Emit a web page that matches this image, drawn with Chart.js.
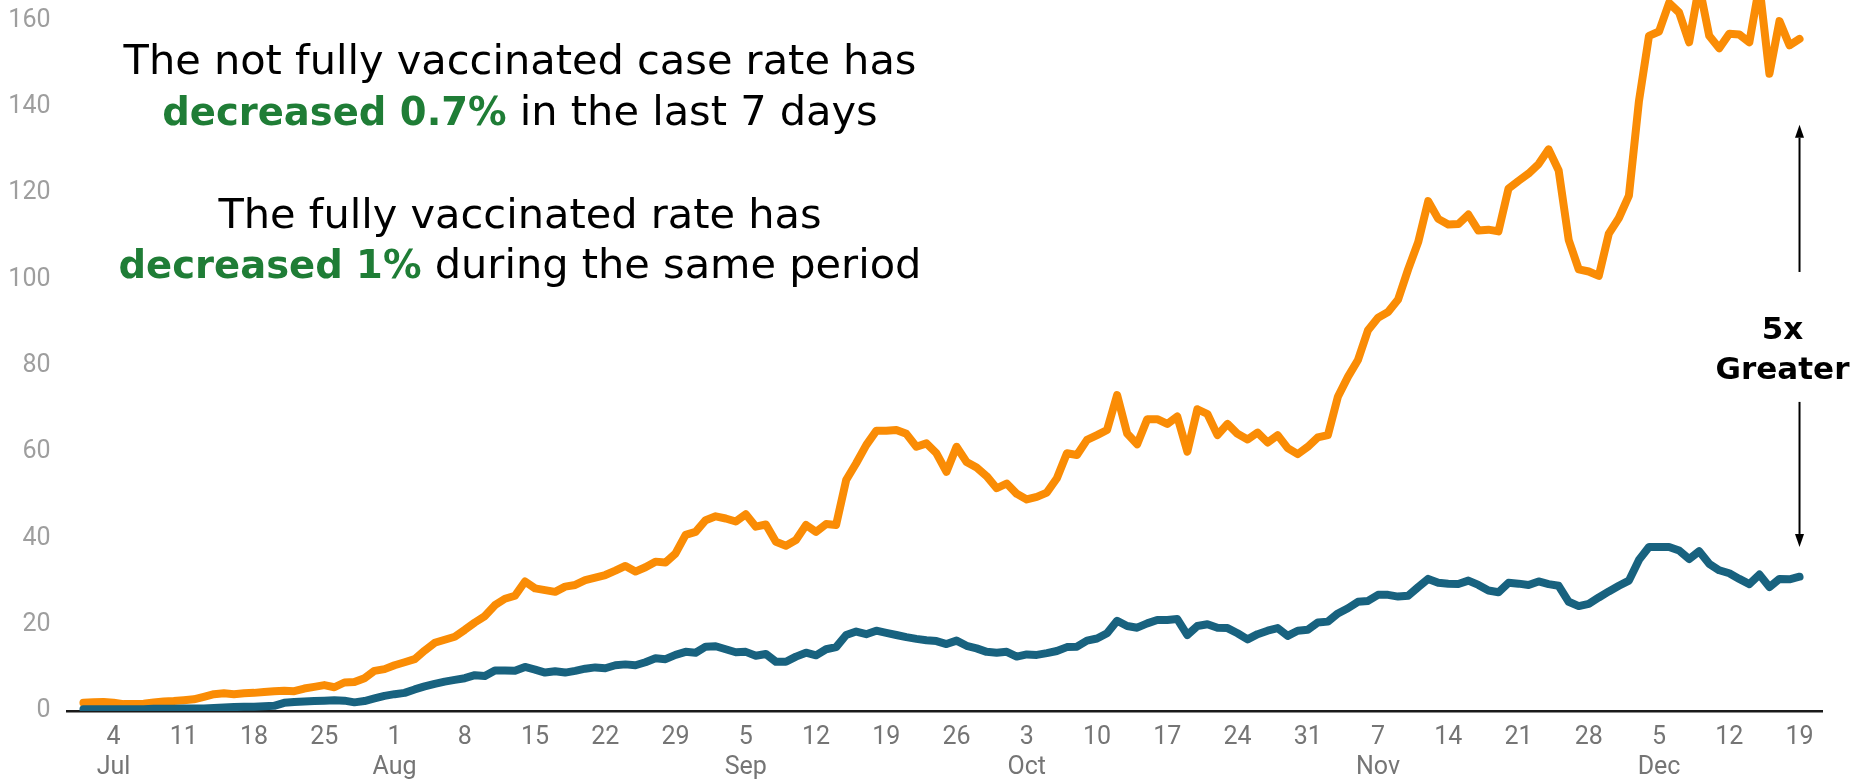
<!DOCTYPE html>
<html>
<head>
<meta charset="utf-8">
<script src="https://cdn.jsdelivr.net/npm/chart.js@4.4.1/dist/chart.umd.min.js"></script>
<style>
  html, body { margin: 0; padding: 0; background: #ffffff; }
  #wrap { width: 1855px; height: 779px; position: relative; }
</style>
</head>
<body>
<div id="wrap"><canvas id="c" width="1855" height="779"></canvas></div>
<script>
// ---------------- DATA ----------------
// Daily case rate, 1 Jul -> 19 Dec (172 days)
const startDate = '2021-07-01';

const notFully = [
  1.9, 2.0, 2.1, 1.9, 1.6, 1.6, 1.7, 2.0, 2.2, 2.3,
  2.5, 2.7, 3.3, 3.9, 4.1, 3.9, 4.1, 4.2, 4.4, 4.6,
  4.7, 4.6, 5.2, 5.6, 6.0, 5.5, 6.6, 6.7, 7.6, 9.3,
  9.7, 10.6, 11.3, 12.0, 14.0, 15.8, 16.5, 17.2, 18.8, 20.5,
  22.0, 24.5, 26.0, 26.7, 30.0, 28.4, 28.0, 27.6, 28.8, 29.2,
  30.3, 30.9, 31.5, 32.5, 33.6, 32.3, 33.3, 34.6, 34.4, 36.5,
  40.8, 41.5, 44.2, 45.1, 44.6, 43.9, 45.6, 42.7, 43.2, 39.2,
  38.3, 39.6, 43.1, 41.5, 43.3, 43.1, 53.5, 57.4, 61.6, 64.9,
  64.9, 65.1, 64.2, 61.2, 62.0, 59.7, 55.4, 61.2, 57.7, 56.4,
  54.4, 51.6, 52.7, 50.3, 49.0, 49.6, 50.6, 53.9, 59.7, 59.3,
  62.8, 63.9, 65.1, 73.2, 64.3, 61.8, 67.6, 67.6, 66.5, 68.2,
  60.1, 69.9, 68.8, 63.9, 66.5, 64.2, 62.9, 64.5, 62.2, 63.9,
  60.9, 59.5, 61.2, 63.4, 63.9, 72.8, 77.4, 81.3, 88.2, 91.1,
  92.4, 95.3, 102.3, 108.6, 118.1, 114.0, 112.7, 112.8, 115.0, 111.3,
  111.5, 111.1, 121.0, 122.8, 124.5, 126.7, 130.1, 125.2, 109.1, 102.3,
  101.8, 100.8, 110.6, 114.2, 119.4, 141.3, 156.4, 157.4, 164.0, 161.8,
  154.9, 168.0, 156.4, 153.5, 156.9, 156.7, 154.9, 168.0, 147.6, 159.8,
  154.2, 155.7
];

const fully = [
  0.4, 0.4, 0.4, 0.4, 0.4, 0.4, 0.4, 0.5, 0.5, 0.5,
  0.6, 0.6, 0.6, 0.7, 0.8, 0.9, 1.0, 1.0, 1.1, 1.2,
  1.9, 2.1, 2.2, 2.3, 2.4, 2.5, 2.4, 2.0, 2.3, 2.9,
  3.5, 3.9, 4.2, 5.0, 5.7, 6.3, 6.8, 7.2, 7.6, 8.3,
  8.1, 9.4, 9.4, 9.3, 10.2, 9.6, 8.9, 9.2, 8.9, 9.3,
  9.8, 10.1, 9.9, 10.6, 10.8, 10.6, 11.3, 12.2, 12.0, 13.0,
  13.7, 13.5, 14.9, 15.0, 14.3, 13.6, 13.7, 12.8, 13.2, 11.4,
  11.4, 12.6, 13.5, 12.9, 14.3, 14.8, 17.6, 18.4, 17.8, 18.6,
  18.1, 17.6, 17.1, 16.7, 16.4, 16.2, 15.5, 16.3, 15.1, 14.5,
  13.7, 13.5, 13.7, 12.6, 13.1, 13.0, 13.4, 13.9, 14.8, 14.9,
  16.3, 16.8, 18.0, 20.9, 19.7, 19.3, 20.3, 21.1, 21.1, 21.3,
  17.6, 19.7, 20.1, 19.3, 19.2, 18.0, 16.6, 17.8, 18.6, 19.2,
  17.4, 18.6, 18.8, 20.5, 20.7, 22.6, 23.8, 25.3, 25.5, 26.9,
  26.9, 26.5, 26.7, 28.7, 30.6, 29.7, 29.5, 29.4, 30.2, 29.2,
  27.9, 27.5, 29.7, 29.5, 29.2, 30.0, 29.4, 29.0, 25.3, 24.3,
  24.8, 26.3, 27.7, 29.0, 30.2, 35.0, 38.0, 38.0, 38.0, 37.2,
  35.2, 37.0, 34.1, 32.6, 31.9, 30.6, 29.4, 31.6, 28.7, 30.6,
  30.5, 31.1
];

const yTicks = [0, 20, 40, 60, 80, 100, 120, 140, 160];
const xTickDays   = ['4','11','18','25','1','8','15','22','29','5','12','19','26','3','10','17','24','31','7','14','21','28','5','12','19'];
const xTickMonths = ['Jul','','','','Aug','','','','','Sep','','','','Oct','','','','','Nov','','','','Dec','',''];

const noteLines = [
  [{ t: 'The not fully vaccinated case rate has', bold: false }],
  [{ t: 'decreased 0.7%', bold: true }, { t: ' in the last 7 days', bold: false }],
  [{ t: 'The fully vaccinated rate has', bold: false }],
  [{ t: 'decreased 1%', bold: true }, { t: ' during the same period', bold: false }]
];
const ratioText = ['5x', 'Greater'];

// ---------------- DERIVED ----------------
const categories = notFully.map((_, i) => {
  const d = new Date(startDate + 'T00:00:00');
  d.setDate(d.getDate() + i);
  return d;
});
// tick positions: index of each labelled date, scanning forward through categories
const xTickIndex = [];
(function () {
  let k = 0;
  for (let i = 0; i < categories.length && k < xTickDays.length; i++) {
    if (String(categories[i].getDate()) === xTickDays[k] && (k === 0 || i - xTickIndex[k - 1] >= 6)) {
      xTickIndex.push(i); k++;
    }
  }
})();
const lastIndex = notFully.length - 1;

// ---------------- STYLE ----------------
const ORANGE = '#FA8C05';
const TEAL = '#18627F';
const GREEN = '#1F7D36';
const TEXT_FONT = "'DejaVu Sans'";

const notesPlugin = {
  id: 'notes',
  afterDraw(chart) {
    const ctx = chart.ctx;
    const xs = chart.scales.x, ys = chart.scales.y;
    ctx.save();
    // Text block
    const centerX = 520;
    const baselines = [74, 125, 228, 278];
    ctx.textBaseline = 'alphabetic';
    ctx.textAlign = 'left';
    noteLines.forEach((parts, li) => {
      const fonts = parts.map(p => p.bold ? `bold 38.5px ${TEXT_FONT}` : `41.5px ${TEXT_FONT}`);
      let total = 0;
      const widths = parts.map((p, i) => { ctx.font = fonts[i]; const w = ctx.measureText(p.t).width; total += w; return w; });
      let x = centerX - total / 2;
      parts.forEach((p, i) => {
        ctx.font = fonts[i];
        ctx.fillStyle = p.bold ? GREEN : '#000000';
        ctx.fillText(p.t, x, baselines[li]);
        x += widths[i];
      });
    });

    // Ratio annotation with arrows at last date
    const ax = xs.getPixelForValue(lastIndex);
    ctx.strokeStyle = '#000';
    ctx.fillStyle = '#000';
    ctx.lineWidth = 2;
    const arrow = (fromV, toV) => {
      const y0 = ys.getPixelForValue(fromV), y1 = ys.getPixelForValue(toV);
      const dir = y1 < y0 ? -1 : 1;
      const head = 13, hw = 4.5;
      ctx.beginPath();
      ctx.moveTo(ax, y0);
      ctx.lineTo(ax, y1 - dir * head);
      ctx.stroke();
      ctx.beginPath();
      ctx.moveTo(ax, y1);
      ctx.lineTo(ax - hw, y1 - dir * head);
      ctx.lineTo(ax + hw, y1 - dir * head);
      ctx.closePath();
      ctx.fill();
    };
    arrow(101.7, 135.8);
    arrow(71.6, 38.0);
    ctx.font = `bold 31px ${TEXT_FONT}`;
    ctx.textAlign = 'center';
    ctx.fillText(ratioText[0], ax - 17, 339);
    ctx.fillText(ratioText[1], ax - 17, 379);
    ctx.restore();
  }
};

new Chart(document.getElementById('c'), {
  type: 'line',
  data: {
    datasets: [
      {
        label: 'Fully vaccinated',
        data: fully.map((v, i) => ({ x: i, y: v })),
        borderColor: TEAL, backgroundColor: TEAL,
        borderWidth: 8, pointRadius: 0, tension: 0,
        borderJoinStyle: 'round', borderCapStyle: 'round', fill: false
      },
      {
        label: 'Not fully vaccinated',
        data: notFully.map((v, i) => ({ x: i, y: v })),
        borderColor: ORANGE, backgroundColor: ORANGE,
        borderWidth: 8, pointRadius: 0, tension: 0,
        borderJoinStyle: 'round', borderCapStyle: 'round', fill: false
      }
    ]
  },
  options: {
    responsive: false,
    animation: false,
    layout: { padding: { left: 0, right: 33, top: 0, bottom: 0 } },
    plugins: { legend: { display: false }, tooltip: { enabled: false } },
    scales: {
      x: {
        type: 'linear',
        min: -1.64, max: lastIndex + 2.24,
        grid: { display: false, drawTicks: false },
        border: { display: true, color: '#1a1a1a', width: 2.5 },
        afterBuildTicks: s => { s.ticks = xTickIndex.map(v => ({ value: v })); },
        afterFit: s => { s.height = 68; s.paddingLeft = 0; s.paddingRight = 0; },
        ticks: {
          autoSkip: false, maxRotation: 0, minRotation: 0, padding: 11.5,
          color: '#757575',
          font: { family: 'Roboto', size: 25, lineHeight: 1.2 },
          callback: (v, i) => [xTickDays[i], xTickMonths[i]]
        }
      },
      y: {
        min: 0, max: 164.7,
        grid: { display: false, drawTicks: false },
        border: { display: false },
        afterBuildTicks: s => { s.ticks = yTicks.map(v => ({ value: v })); },
        afterFit: s => { s.width = 67; s.paddingTop = 0; s.paddingBottom = 0; },
        ticks: {
          padding: 16.5, color: '#9E9E9E',
          font: { family: 'Roboto', size: 25 },
          callback: v => String(v)
        }
      }
    }
  },
  plugins: [notesPlugin]
});
</script>
</body>
</html>
